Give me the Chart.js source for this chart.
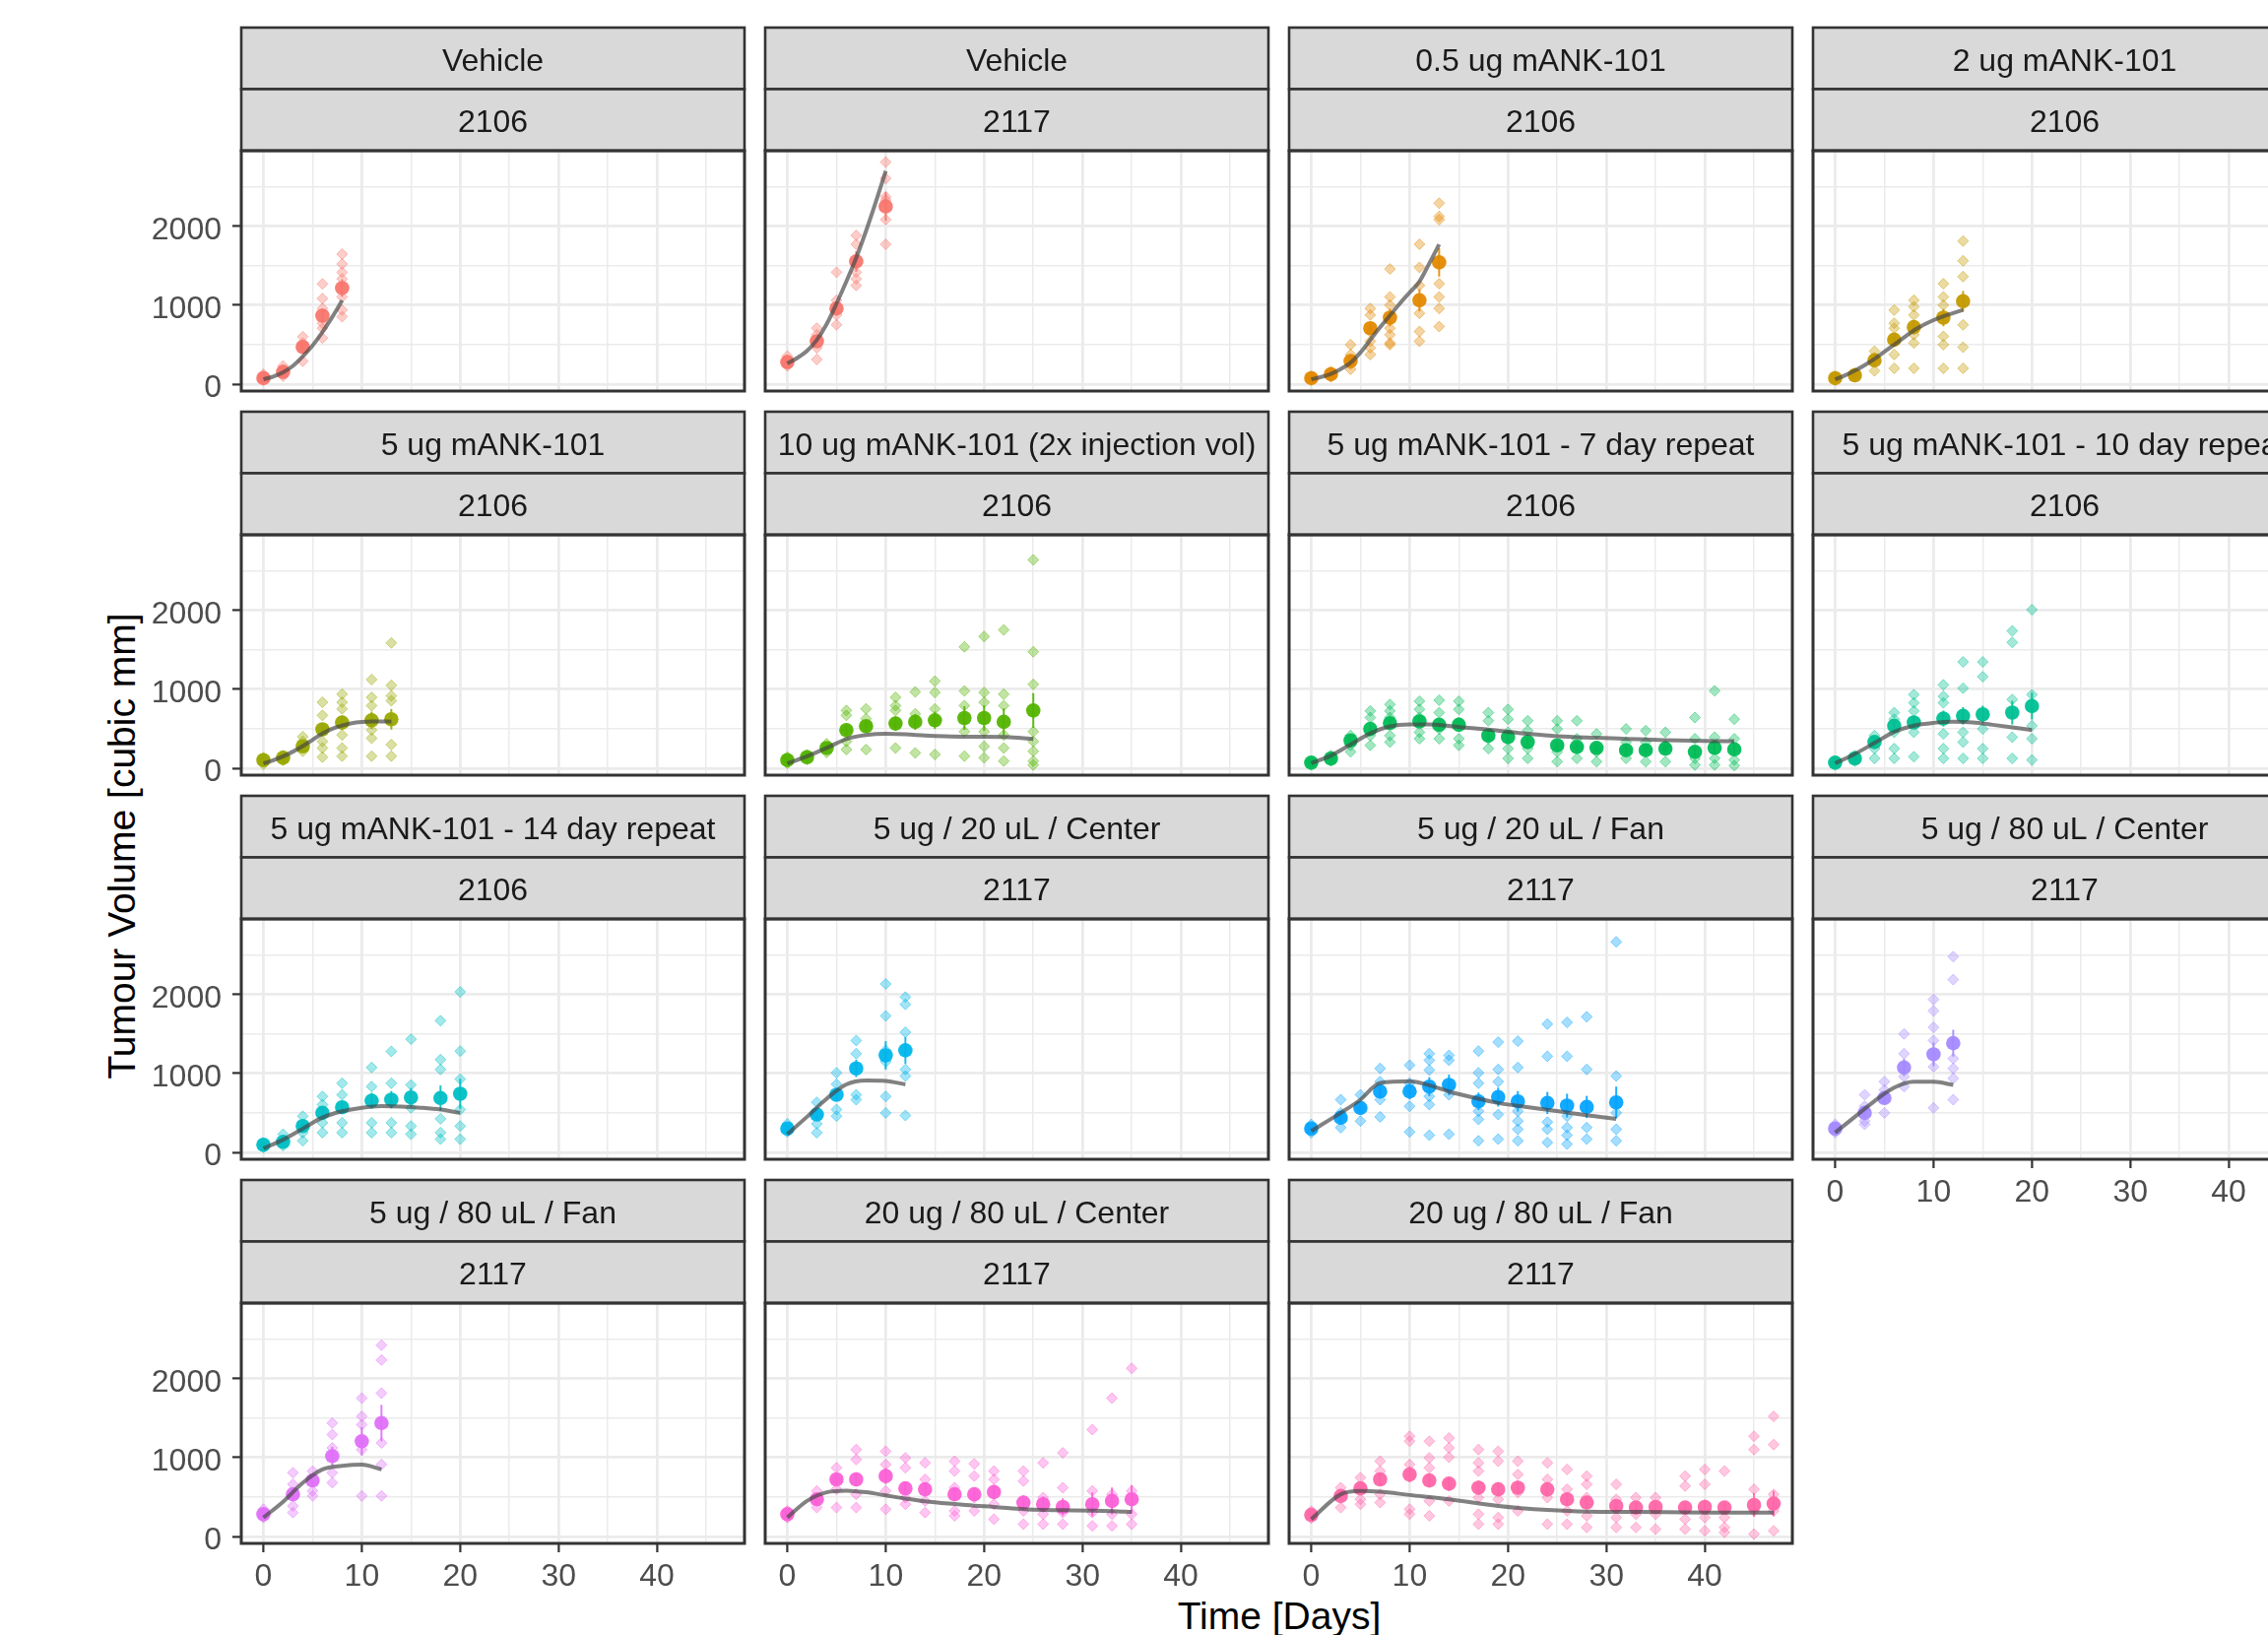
<!DOCTYPE html>
<html><head><meta charset="utf-8">
<script src="https://cdn.jsdelivr.net/npm/chart.js@4.4.1/dist/chart.umd.min.js"></script>
<style>
html,body{margin:0;padding:0;background:#fff;overflow:hidden;width:2303px;height:1660px;}
#wrap{position:relative;width:2303px;height:1660px;overflow:hidden;background:#fff;}
canvas{position:absolute;}
.ttl{position:absolute;font-family:"Liberation Sans",Arial,sans-serif;font-size:39px;line-height:38px;color:#000;white-space:nowrap;text-align:center;}
#xt{left:1099px;top:1622px;width:400px;height:38px;}
#yt{left:-176px;top:840px;width:600px;height:38px;transform:rotate(-90deg);}
</style></head><body><div id="wrap">
<div class="ttl" id="xt">Time [Days]</div>
<div class="ttl" id="yt">Tumour Volume [cubic mm]</div>
</div>
<script>
// ---------------- DATA ----------------
const panelTitles = ["Vehicle","Vehicle","0.5 ug mANK-101","2 ug mANK-101","5 ug mANK-101",
  "10 ug mANK-101 (2x injection vol)","5 ug mANK-101 - 7 day repeat","5 ug mANK-101 - 10 day repeat",
  "5 ug mANK-101 - 14 day repeat","5 ug / 20 uL / Center","5 ug / 20 uL / Fan","5 ug / 80 uL / Center",
  "5 ug / 80 uL / Fan","20 ug / 80 uL / Center","20 ug / 80 uL / Fan"];
const panelBatches = ["2106","2117","2106","2106","2106","2106","2106","2106","2106","2117","2117","2117","2117","2117","2117"];

const xTickValues = [0,10,20,30,40];
const xMinorValues = [5,15,25,35,45];
const yTickValues = [0,1000,2000];
const yMinorValues = [500,1500,2500];

const obsDays = [
  [0,2,4,6,8],
  [0,3,5,7,10],
  [0,2,4,6,8,11,13],
  [0,2,4,6,8,11,13],
  [0,2,4,6,8,11,13],
  [0,2,4,6,8,11,13,15,18,20,22,25],
  [0,2,4,6,8,11,13,15,18,20,22,25,27,29,32,34,36,39,41,43],
  [0,2,4,6,8,11,13,15,18,20],
  [0,2,4,6,8,11,13,15,18,20],
  [0,3,5,7,10,12],
  [0,3,5,7,10,12,14,17,19,21,24,26,28,31],
  [0,3,5,7,10,12],
  [0,3,5,7,10,12],
  [0,3,5,7,10,12,14,17,19,21,24,26,28,31,33,35],
  [0,3,5,7,10,12,14,17,19,21,24,26,28,31,33,35,38,40,42,45,47]
];
const meanVolumes = [
  [75,154,470,867,1217],
  [279,542,958,1554,2250],
  [75,125,292,708,842,1062,1542],
  [75,112,300,562,721,842,1050],
  [103,132,277,492,578,607,620],
  [103,140,256,483,533,566,587,607,636,636,587,731],
  [70,124,352,497,571,592,550,550,414,393,331,290,269,257,228,228,248,207,258,238],
  [70,124,331,538,580,629,663,683,704,787],
  [96,133,333,500,571,654,667,696,688,742],
  [300,479,729,1063,1229,1292],
  [300,438,563,771,771,833,854,646,700,646,625,592,575,633],
  [300,500,688,1075,1242,1383],
  [282,534,710,1017,1206,1437],
  [282,471,723,723,765,609,597,534,534,563,429,408,374,408,450,471],
  [273,513,609,723,786,710,668,618,597,618,597,471,429,387,366,374,366,374,366,399,416]
];
const semVolumes = [
  [10,20,50,90,110],
  [20,60,90,130,180],
  [10,15,40,70,110,140,180],
  [10,15,35,80,90,110,130],
  [10,15,30,80,90,110,130],
  [10,15,30,70,70,90,100,110,150,160,170,220],
  [10,15,30,60,60,70,60,60,55,60,60,50,50,45,45,45,45,60,80,60],
  [10,15,40,70,80,100,110,110,150,170],
  [10,15,40,70,80,100,110,120,160,190],
  [20,50,80,110,180,170],
  [20,50,60,90,100,120,130,110,120,130,140,150,140,200],
  [20,50,70,110,150,170],
  [20,60,70,120,180,230],
  [20,50,70,90,100,80,80,80,80,90,90,100,110,150,170,180],
  [20,50,60,80,100,90,90,90,90,90,90,80,80,70,60,60,80,90,80,150,160]
];
const animalVolumes = [
  [[50,75,100,125],[100,140,180,230],[290,460,520,600],[583,708,770,958,1083,1270],[854,937,1104,1333,1417,1521,1646]],
  [[229,260,300,354],[312,458,625,708],[750,875,1062,1417],[1250,1333,1417,1771,1883],[1771,2083,2333,2375,2604,2812]],
  [[50,75,100],[90,125,160],[187,250,375,500],[375,458,542,667,875,958],[500,521,625,708,1000,1104,1458],[542,667,896,1250,1479,1771],[729,958,1104,1271,2083,2125,2292]],
  [[50,75,100],[90,112,140],[167,300,333,417],[200,375,562,708,771,937],[200,521,625,875,979,1062],[200,500,604,1000,1104,1271],[200,467,750,1362,1562,1812]],
  [[50,103,132],[100,132,160],[215,277,339,400],[140,256,339,504,669,835],[153,256,421,752,835,938],[153,380,483,793,897,1124],[153,298,855,917,1050,1587]],
  [[60,103,140],[110,140,170],[200,256,310],[236,339,483,669,731],[236,533,628,752],[256,566,731,793,897],[194,587,690,967],[174,607,752,959,1103],[153,463,793,979,1537],[132,277,463,835,959,1669],[91,256,421,793,938,1752],[41,91,215,339,463,1062,1475,2640]],
  [[50,70,90],[90,124,160],[207,290,352,414],[290,414,642,725],[331,414,642,725,807],[373,455,642,745,849],[373,497,704,861],[290,373,580,745,849],[248,373,600,704],[124,248,455,621,745],[124,248,476,600],[83,207,497,600],[124,269,373,600],[83,207,257,435],[124,228,331,497],[83,228,331,476],[83,248,290,455],[41,124,373,642],[41,124,393,981],[33,104,373,621]],
  [[50,70,90],[90,124,160],[124,248,331,414],[124,248,455,621,704],[145,455,725,828,932],[124,248,435,828,911,1056],[124,331,455,1014,1346],[124,248,497,1159,1346],[124,393,870,1594,1739],[104,373,538,932,2008]],
  [[60,96,120],[83,133,229],[146,250,333,458],[250,375,604,708],[250,375,729,875],[250,375,833,1075],[250,375,875,1279],[229,333,563,854,1433],[167,250,425,1050,1175,1667],[167,333,542,929,1283,2033]],
  [[258,300,362],[250,362,479,633],[458,542,863,1008],[667,729,1250,1417],[500,708,1146,1292,1729,2133],[467,967,1050,1521,1875,1967]],
  [[250,300,354],[313,438,500,667],[396,563,729],[450,667,896,1063],[258,583,875,1104],[217,604,708,1042,1167,1250],[229,729,833,1167,1229],[146,417,521,875,1008,1283],[167,479,896,1050,1396],[146,292,396,521,1075,1408],[125,292,383,1217,1625],[104,217,313,458,1217,1646],[167,313,1050,1717],[146,292,500,967,2667]],
  [[250,300,354],[354,396,583,729],[500,792,896],[833,958,1250,1500],[563,1083,1417,1583,1792,1938],[667,938,1063,1188,2188,2479]],
  [[240,282,345],[303,387,660,807],[513,576,828],[681,807,1122,1290,1437],[513,1101,1416,1521,1752],[513,912,1185,1815,2235,2424]],
  [[240,282,324],[366,471,576],[366,597,723,870],[366,534,975,1101],[345,576,912,1080],[408,492,870,996],[303,450,723,933],[261,324,618,828,954],[324,492,765,920],[219,408,723,828],[156,324,702,828],[156,282,492,933],[156,303,618,1059],[135,303,576,1353],[135,282,534,1752],[156,282,576,2130]],
  [[230,273,320],[366,513,618],[408,471,609,744],[429,534,828,954],[282,345,912,1206,1269],[261,450,870,996,1206],[450,668,1004,1122,1248],[156,282,492,828,933,1101],[156,240,471,954,1080],[324,555,786,954],[156,492,723,933],[156,324,597,849],[114,261,492,660,765],[114,240,471,660],[114,282,492],[93,282,492],[93,219,639,765],[72,240,660,849],[51,114,240,828],[30,324,597,1101,1269],[72,324,534,1164,1521]]
];
const fitDays = [
  [0,1,2,3,4,5,6,7,8],
  [0,1,2,3,4,5,6,7,8,9,10],
  [0,1,2,3,4,5,6,7,8,9,10,11,12,13],
  [0,1,2,3,4,5,6,7,8,9,10,11,12,13],
  [0,1,2,3,4,5,6,7,8,9,10,11,12,13],
  [0,2,4,6,8,10,12,14,16,18,20,22,24,25],
  [0,2,4,6,8,10,12,14,16,18,20,22,25,29,32,36,40,43],
  [0,2,4,6,8,10,12,14,16,18,20],
  [0,2,4,6,8,10,12,14,16,18,20],
  [0,2,4,6,8,10,12],
  [0,3,5,7,10,12,14,17,19,21,24,26,28,31],
  [0,2,4,6,8,10,12],
  [0,2,4,6,8,10,12],
  [0,2,4,6,8,10,12,14,17,19,21,24,26,28,31,33,35],
  [0,3,5,7,10,14,19,24,28,33,40,47]
];
const fitVolumes = [
  [60,95,150,230,350,490,660,850,1060],
  [260,330,420,560,760,1020,1300,1600,1940,2310,2700],
  [60,90,130,190,270,400,560,720,870,1020,1160,1300,1530,1770],
  [60,110,170,240,320,410,500,590,680,750,810,860,900,940],
  [60,100,150,210,280,360,440,500,540,570,585,592,592,590],
  [60,150,256,370,420,435,430,415,405,400,400,395,380,372],
  [62,160,300,440,529,555,555,535,510,488,460,435,405,385,372,355,345,342],
  [62,180,320,460,540,575,588,580,550,518,484],
  [50,160,300,440,520,565,585,580,565,542,500],
  [230,450,680,860,910,905,860],
  [271,500,667,880,900,850,770,680,625,590,540,505,470,425],
  [250,450,650,820,895,895,854],
  [240,440,680,850,895,910,849],
  [240,450,560,580,560,520,480,445,410,390,375,345,335,332,328,322,311],
  [219,534,576,567,525,471,387,336,315,311,303,303]
];

// ---------------- STYLE / LAYOUT ----------------
const panelColors = ["#F8766D","#F8766D","#E38900","#C49A00","#99A800","#53B400","#00BC56","#00C094",
  "#00BFC4","#00B6EB","#06A4FF","#A58AFF","#DF70F8","#FB61D7","#FF66A8"];
const FONT = '"Liberation Sans", Arial, sans-serif';
const L = 120, RP = 8, PT = 130, STRIP = 62.5, H = 244, B = 72, W = 511;
const colLeft = [245, 777, 1309, 1841];
const rowTop = [28, 418, 808, 1198];

function hexA(h, a) {
  const r = parseInt(h.slice(1,3),16), g = parseInt(h.slice(3,5),16), b = parseInt(h.slice(5,7),16);
  return `rgba(${r},${g},${b},${a})`;
}

const stripPlugin = {
  id: 'strips',
  afterDraw(chart, args, opts) {
    const ctx = chart.ctx, a = chart.chartArea;
    ctx.save();
    for (let k = 0; k < 2; k++) {
      const y0 = a.top - 2 * STRIP + k * STRIP;
      ctx.fillStyle = '#d9d9d9';
      ctx.fillRect(a.left, y0, a.right - a.left, STRIP);
      ctx.strokeStyle = '#333333'; ctx.lineWidth = 2.6;
      ctx.strokeRect(a.left, y0, a.right - a.left, STRIP);
      ctx.fillStyle = '#1a1a1a';
      ctx.font = '32px ' + FONT;
      ctx.textAlign = 'center'; ctx.textBaseline = 'alphabetic';
      ctx.fillText(k === 0 ? opts.title : opts.batch, (a.left + a.right) / 2, y0 + STRIP / 2 + 12.5);
    }
    ctx.strokeStyle = '#333333'; ctx.lineWidth = 3;
    ctx.strokeRect(a.left, a.top, a.right - a.left, a.bottom - a.top);
    ctx.restore();
  }
};

const errPlugin = {
  id: 'errbars',
  afterDatasetDraw(chart, args, opts) {
    if (args.index !== 1) return;
    const ds = chart.data.datasets[1], xs = chart.scales.x, ys = chart.scales.y, ctx = chart.ctx, a = chart.chartArea;
    ctx.save();
    ctx.beginPath(); ctx.rect(a.left, a.top, a.right - a.left, a.bottom - a.top); ctx.clip();
    ctx.strokeStyle = opts.color; ctx.lineWidth = 2;
    opts.errs.forEach((e, i) => {
      const p = ds.data[i];
      const x = xs.getPixelForValue(p.x);
      ctx.beginPath();
      ctx.moveTo(x, ys.getPixelForValue(p.y - e));
      ctx.lineTo(x, ys.getPixelForValue(p.y + e));
      ctx.stroke();
    });
    ctx.restore();
  }
};

const xGrid = xTickValues.concat(xMinorValues).sort((a, b) => a - b);
const yGrid = yTickValues.concat(yMinorValues).sort((a, b) => a - b);
const wrap = document.getElementById('wrap');

panelTitles.forEach((title, i) => {
  const col = i % 4, row = Math.floor(i / 4);
  const showX = i >= 11, showY = col === 0;
  const color = panelColors[i];
  const cv = document.createElement('canvas');
  const cw = L + W + RP, ch = PT + H + B;
  cv.width = cw; cv.height = ch;
  cv.style.width = cw + 'px'; cv.style.height = ch + 'px';
  cv.style.left = (colLeft[col] - L) + 'px';
  cv.style.top = (rowTop[row] - (PT - 2 * STRIP)) + 'px';
  wrap.appendChild(cv);

  const indiv = [];
  obsDays[i].forEach((d, k) => animalVolumes[i][k].forEach(v => indiv.push({ x: d, y: v })));
  const means = obsDays[i].map((d, k) => ({ x: d, y: meanVolumes[i][k] }));
  const fit = fitDays[i].map((d, k) => ({ x: d, y: fitVolumes[i][k] }));

  new Chart(cv, {
    type: 'scatter',
    data: {
      datasets: [
        { data: fit, showLine: true, borderColor: 'rgba(70,70,70,0.68)', borderWidth: 4,
          pointRadius: 0, cubicInterpolationMode: 'monotone', order: 0 },
        { data: means, pointStyle: 'circle', pointRadius: 7.3, backgroundColor: hexA(color, 0.95),
          borderWidth: 0, order: 1 },
        { data: indiv, pointStyle: 'rectRot', pointRadius: 5.5, backgroundColor: hexA(color, 0.36),
          borderColor: hexA(color, 0.45), borderWidth: 1, order: 2 }
      ]
    },
    options: {
      responsive: false, animation: false, devicePixelRatio: 1,
      layout: { padding: { left: 0, right: RP, top: PT, bottom: 0 } },
      plugins: { legend: { display: false }, tooltip: { enabled: false },
        strips: { title: title, batch: panelBatches[i] },
        errbars: { errs: semVolumes[i], color: hexA(color, 0.9) } },
      scales: {
        x: {
          type: 'linear', min: -2.25, max: 48.9,
          afterBuildTicks: s => { s.ticks = xGrid.map(v => ({ value: v })); },
          afterFit: s => { s.height = B; },
          border: { display: false },
          grid: {
            color: '#ebebeb',
            lineWidth: c => (xTickValues.includes(c.tick && c.tick.value) ? 2.8 : 1.5),
            drawTicks: true, tickLength: 9,
            tickColor: c => (showX && xTickValues.includes(c.tick && c.tick.value)) ? '#333333' : 'rgba(0,0,0,0)',
            tickWidth: 2.2
          },
          ticks: { autoSkip: false, maxRotation: 0, minRotation: 0, padding: 6, color: '#4d4d4d',
            font: { family: FONT, size: 32 },
            callback: v => (showX && xTickValues.includes(v)) ? String(v) : '' }
        },
        y: {
          type: 'linear', min: -88, max: 2957,
          afterBuildTicks: s => { s.ticks = yGrid.map(v => ({ value: v })); },
          afterFit: s => { s.width = L; },
          border: { display: false },
          grid: {
            color: '#ebebeb',
            lineWidth: c => (yTickValues.includes(c.tick && c.tick.value) ? 2.8 : 1.5),
            drawTicks: true, tickLength: 9,
            tickColor: c => (showY && yTickValues.includes(c.tick && c.tick.value)) ? '#333333' : 'rgba(0,0,0,0)',
            tickWidth: 2.2
          },
          ticks: { autoSkip: false, padding: 11, labelOffset: 4, color: '#4d4d4d',
            font: { family: FONT, size: 32 },
            callback: v => (showY && yTickValues.includes(v)) ? String(v) : '' }
        }
      }
    },
    plugins: [stripPlugin, errPlugin]
  });
});
</script>
</body></html>
